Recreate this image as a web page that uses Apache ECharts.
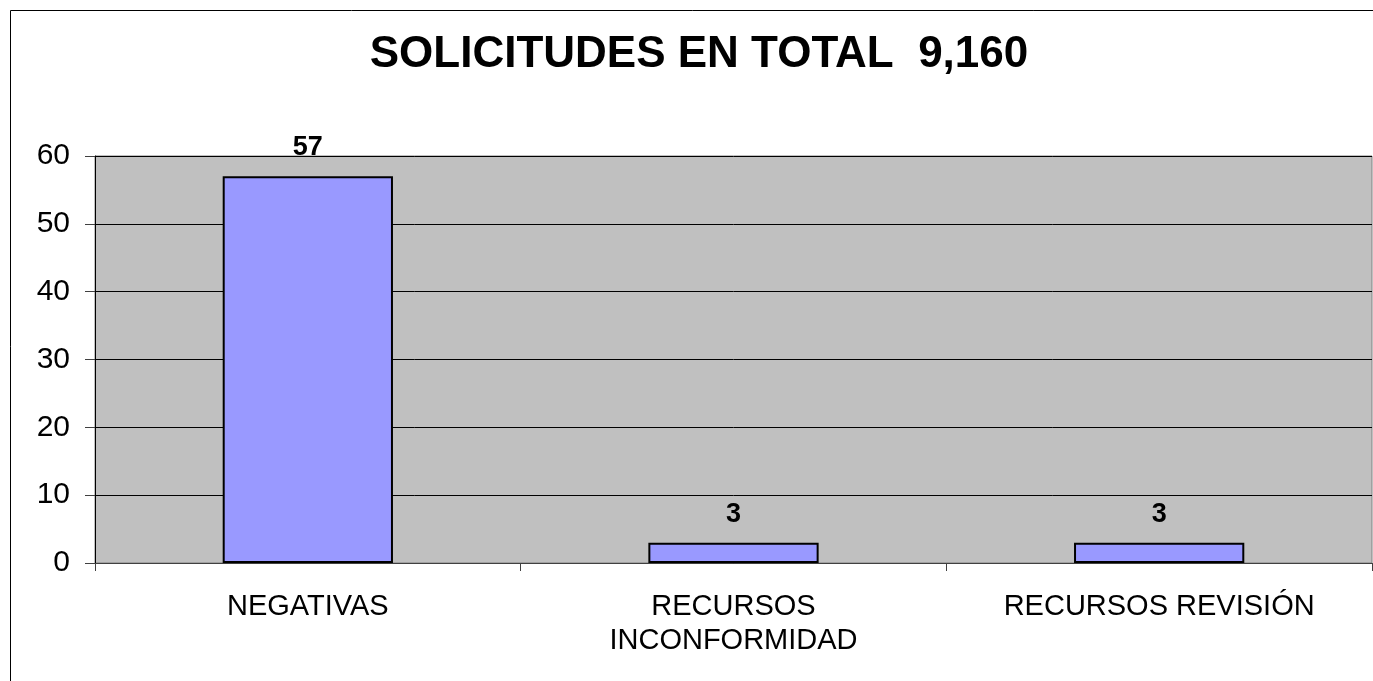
<!DOCTYPE html>
<html>
<head>
<meta charset="utf-8">
<script src="https://cdn.jsdelivr.net/npm/echarts@6/dist/echarts.min.js"></script>
<style>
  html, body { margin:0; padding:0; background:#fff; }
  #chart { width:1373px; height:681px; }
</style>
</head>
<body>
<div id="chart"></div>
<script>
// datos de la grafica
var categorias = ['NEGATIVAS', 'RECURSOS\nINCONFORMIDAD', 'RECURSOS REVISIÓN'];
var valores = [57, 3, 3];
var tituloTexto = 'SOLICITUDES EN TOTAL  9,160';

var myChart = echarts.init(document.getElementById('chart'));

var option = {
    animation: false,
    textStyle: { fontFamily: 'Liberation Sans, Arial, sans-serif' },
    title: {
        text: tituloTexto,
        left: 694,
        textAlign: 'center',
        top: 28,
        textStyle: { fontSize: 44, fontWeight: 'bold', color: '#000', fontFamily: 'Liberation Sans, Arial, sans-serif' }
    },
    graphic: [{
        type: 'rect',
        shape: { x: 10.5, y: 10.5, width: 1400, height: 700 },
        style: { fill: 'none', stroke: '#000', lineWidth: 1 },
        silent: true
    }],
    grid: {
        left: 95, right: 1, top: 156, bottom: 118,
        show: true,
        backgroundColor: '#C0C0C0',
        borderColor: '#808080',
        borderWidth: 1
    },
    xAxis: {
        type: 'category',
        data: categorias,
        axisLine: { lineStyle: { color: '#404040', width: 1 } },
        axisTick: { show: true, alignWithLabel: false, length: 8, lineStyle: { color: '#404040' } },
        axisLabel: { fontSize: 29, color: '#000', margin: 27, lineHeight: 34, interval: 0 }
    },
    yAxis: {
        type: 'value',
        min: 0, max: 60, interval: 10,
        axisLine: { show: true, lineStyle: { color: '#000' } },
        axisTick: { show: true, length: 10, lineStyle: { color: '#404040' } },
        axisLabel: { fontSize: 30, color: '#000', margin: 25 },
        splitLine: { lineStyle: { color: '#000', width: 1 } }
    },
    series: [{
        type: 'bar',
        data: valores,
        barWidth: '40%',
        itemStyle: { color: '#9999FF', borderColor: '#000', borderWidth: 2 },
        label: {
            show: true,
            position: 'top',
            distance: 15,
            fontSize: 27,
            fontWeight: 'bold',
            color: '#000'
        }
    }]
};

myChart.setOption(option);
</script>
</body>
</html>
